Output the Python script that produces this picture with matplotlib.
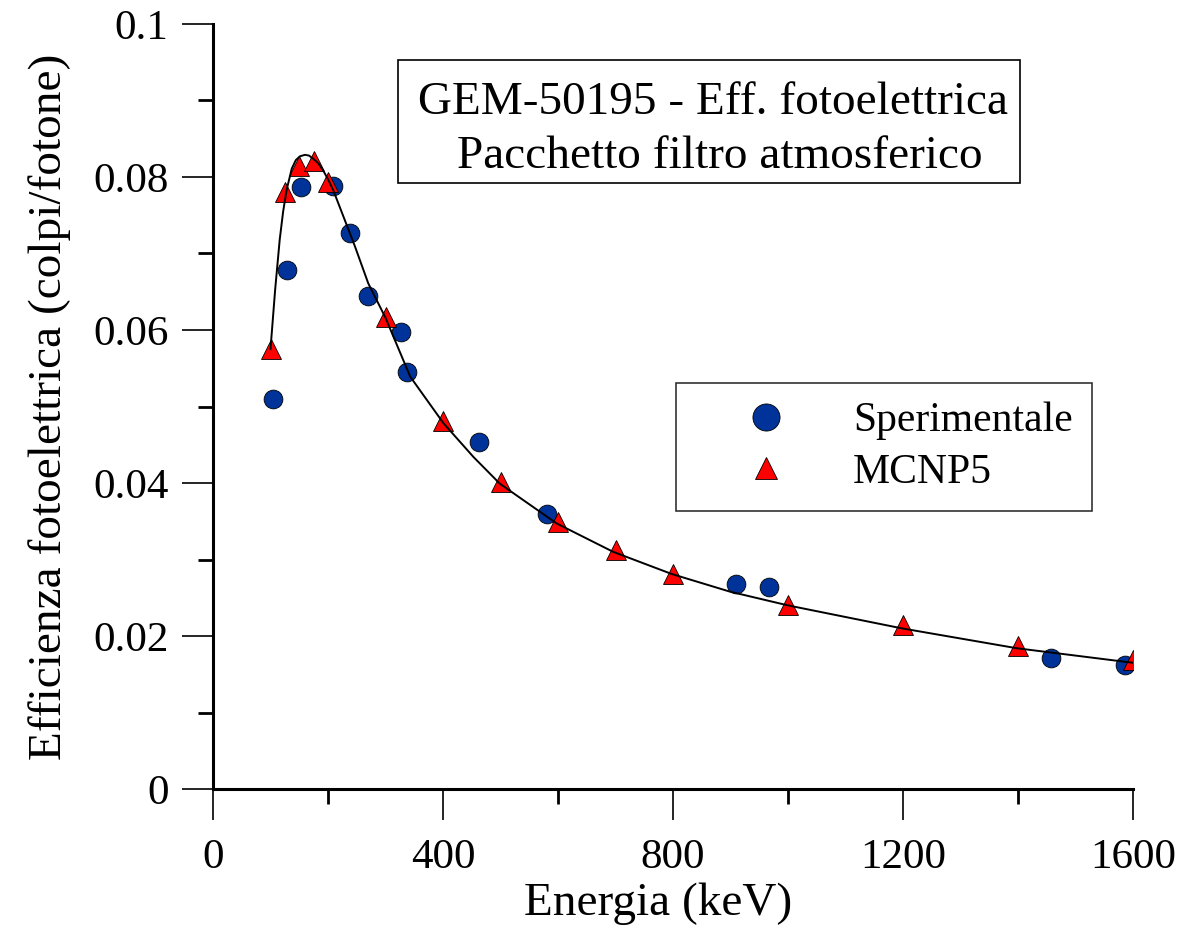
"""Efficienza fotoelettrica GEM-50195 — sperimentale vs MCNP5."""
import matplotlib
matplotlib.use('Agg')
import matplotlib.pyplot as plt
from matplotlib.patches import Rectangle
from matplotlib.ticker import MultipleLocator, FuncFormatter

plt.rcParams['font.family'] = ['Liberation Serif', 'DejaVu Serif']

# Dati sperimentali
exp_e = [104, 129, 153, 209, 238, 270, 327, 337, 463, 581, 910, 967, 1457, 1586]
exp_eff = [0.0510, 0.0678, 0.0787, 0.0788, 0.0727, 0.0644, 0.0597, 0.0545,
           0.0453, 0.0360, 0.0268, 0.0264, 0.0171, 0.0162]

# Simulazione MCNP5
mc_e = [100, 125, 150, 175, 200, 300, 400, 500, 600, 700, 800, 1000, 1200, 1400, 1600]
mc_eff = [0.0575, 0.0780, 0.0815, 0.0821, 0.0794, 0.0617, 0.0481, 0.0401, 0.0349,
          0.0312, 0.0281, 0.0241, 0.0214, 0.0187, 0.0169]

# Curva di fit
fit_e = [100, 108, 116, 122, 128, 137, 144, 151, 160, 167, 174, 183, 192, 200, 209,
         227, 247, 270, 300, 343, 401, 453, 499, 598, 696, 798, 899, 1000, 1198,
         1398, 1600]
fit_eff = [0.0575, 0.0652, 0.0718, 0.0755, 0.0783, 0.0811, 0.0822, 0.0827, 0.0829,
           0.0828, 0.0824, 0.0818, 0.0808, 0.0797, 0.0783, 0.0748, 0.0709, 0.0661,
           0.0616, 0.0539, 0.0478, 0.0434, 0.0399, 0.0347, 0.0310, 0.0281, 0.0258,
           0.0240, 0.0210, 0.0184, 0.0165]

title_lines = ['GEM-50195 - Eff. fotoelettrica', 'Pacchetto filtro atmosferico']

fig = plt.figure(figsize=(11.88, 9.31), dpi=100)
ax = fig.add_axes([213 / 1188, 1 - 789 / 931, 920 / 1188, 765 / 931])

ax.plot(exp_e, exp_eff, linestyle='none', marker='o', ms=13.5,
        mfc='#003399', mec='black', mew=0.6, zorder=2, label='Sperimentale')
ax.plot(mc_e, mc_eff, linestyle='none', marker='^', ms=14,
        mfc='#ff0000', mec='black', mew=0.6, zorder=3, label='MCNP5')
ax.plot(fit_e, fit_eff, color='black', lw=1.4, zorder=4)

ax.set_xlim(0, 1600)
ax.set_ylim(0, 0.1)
ax.xaxis.set_major_locator(MultipleLocator(400))
ax.xaxis.set_minor_locator(MultipleLocator(200))
ax.yaxis.set_major_locator(MultipleLocator(0.02))
ax.yaxis.set_minor_locator(MultipleLocator(0.01))
ax.yaxis.set_major_formatter(FuncFormatter(lambda v, p: '0' if v == 0 else f'{v:g}'))

for s in ['top', 'right']:
    ax.spines[s].set_visible(False)
for s in ['left', 'bottom']:
    ax.spines[s].set_linewidth(2.2)

ax.tick_params(which='major', direction='out', length=22, width=1.2, labelsize=31)
ax.tick_params(axis='x', which='major', pad=14)
ax.tick_params(axis='y', which='major', pad=10)
ax.tick_params(which='minor', direction='out', length=11, width=2)

ax.set_xlabel('Energia (keV)', fontsize=34)
ax.xaxis.set_label_coords(0.4837, -0.122)
ax.set_ylabel('Efficienza fotoelettrica (colpi/fotone)', fontsize=34, labelpad=16)

# Riquadro titolo
ax.add_patch(Rectangle((0.2011, 0.7922), 0.6761, 0.1608, transform=ax.transAxes,
                       facecolor='white', edgecolor='black', lw=1.2, zorder=5))
ax.text(0.5435, 0.8967, title_lines[0], transform=ax.transAxes,
        ha='center', va='center', fontsize=34, zorder=6)
ax.text(0.5511, 0.8261, title_lines[1], transform=ax.transAxes,
        ha='center', va='center', fontsize=34, zorder=6)

leg = ax.legend(loc='upper left', bbox_to_anchor=((676 - 213) / 920, (789 - 383) / 765),
                borderaxespad=0, fontsize=30, frameon=True, fancybox=False,
                borderpad=0.45, handlelength=3.4, handletextpad=0.4,
                labelspacing=0.32)
leg.get_frame().set_edgecolor('black')
leg.get_frame().set_linewidth(1.2)
leg.legend_handles[0].set_markersize(19.5)
leg.legend_handles[1].set_markersize(16.5)

plt.savefig('out.png', dpi=100, facecolor='white')
plt.close()
print("OK: out.png")
